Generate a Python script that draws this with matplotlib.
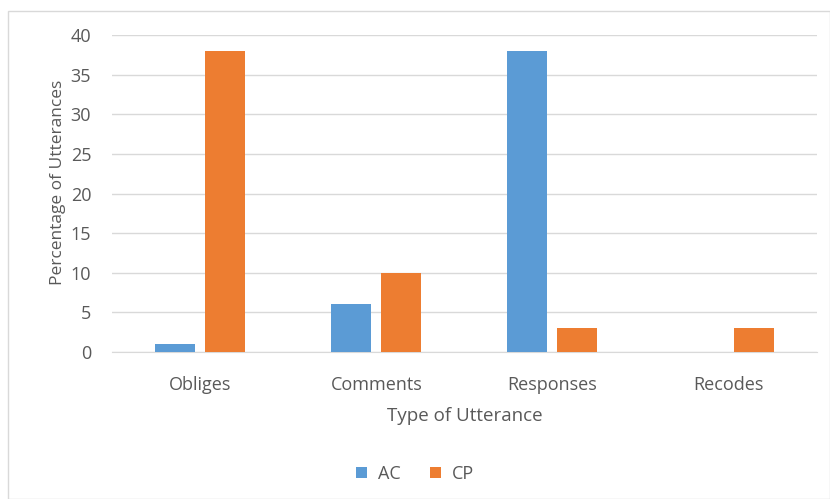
import matplotlib
matplotlib.use('Agg')
import matplotlib.pyplot as plt
import numpy as np
from matplotlib.patches import Rectangle

categories = ['Obliges', 'Comments', 'Responses', 'Recodes']
ac_values = [1, 6, 38, 0]
cp_values = [38, 10, 3, 3]

plt.rcParams['font.family'] = ['Open Sans', 'DejaVu Sans']
text_color = '#595959'

fig = plt.figure(figsize=(8.3, 4.99), dpi=100)
fig.patches.append(Rectangle((8 / 830, 0.0), 1 - 8 / 830, 1 - 11 / 499,
                             transform=fig.transFigure, fill=False,
                             edgecolor='#D9D9D9', linewidth=1))
ax = fig.add_axes([0.135, 0.2946, 0.849, 0.635])

x = np.arange(len(categories))
w = 0.227
ax.bar(x - 0.142, ac_values, w, color='#5B9BD5', label='AC', zorder=3)
ax.bar(x + 0.142, cp_values, w, color='#ED7D31', label='CP', zorder=3)

ax.set_xlim(-0.5, len(categories) - 0.5)
ax.set_ylim(0, 40)
ax.set_yticks(range(0, 41, 5))
ax.set_xticks(x)
ax.set_xticklabels(categories)
ax.grid(True, axis='y', color='#D9D9D9', linewidth=1, zorder=0)
for s in ['top', 'right', 'left']:
    ax.spines[s].set_visible(False)
ax.spines['bottom'].set_color('#D9D9D9')
ax.tick_params(length=0, colors=text_color, labelsize=13)
ax.tick_params(axis='x', pad=17)
ax.tick_params(axis='y', pad=15)

ax.set_xlabel('Type of Utterance', fontsize=13.5, color=text_color, labelpad=10)
ax.set_ylabel('Percentage of Utterances', fontsize=12.5, color=text_color)
ax.yaxis.set_label_coords(-0.066, 0.536)

fig.legend(loc='center', bbox_to_anchor=(0.5, 0.05), ncol=2, frameon=False,
           fontsize=13, labelcolor=text_color, handlelength=0.6, handleheight=0.6,
           columnspacing=1.6, handletextpad=0.6)

fig.savefig('out.png', dpi=100)
